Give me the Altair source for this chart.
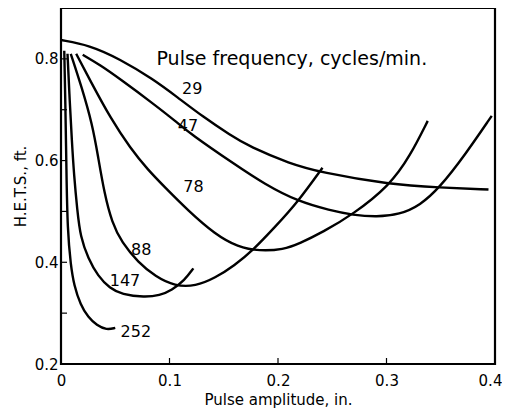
import altair as alt
import pandas as pd

# ---- data ----
x29 = [0.0, 0.026, 0.054, 0.085, 0.107, 0.131, 0.156, 0.174, 0.211, 0.239, 0.303, 0.349, 0.394]
y29 = [0.837, 0.827, 0.800, 0.760, 0.725, 0.686, 0.650, 0.627, 0.594, 0.577, 0.553, 0.547, 0.543]

x47 = [0.020, 0.036, 0.054, 0.085, 0.107, 0.119, 0.159, 0.188, 0.218, 0.248, 0.269, 0.291, 0.312, 0.331, 0.349, 0.372, 0.397]
y47 = [0.808, 0.788, 0.761, 0.712, 0.675, 0.653, 0.594, 0.553, 0.520, 0.502, 0.493, 0.489, 0.494, 0.512, 0.547, 0.610, 0.688]

x78 = [0.014, 0.027, 0.046, 0.064, 0.080, 0.096, 0.117, 0.142, 0.163, 0.183, 0.205, 0.220, 0.241, 0.269, 0.303, 0.322, 0.338]
y78 = [0.810, 0.757, 0.682, 0.624, 0.582, 0.547, 0.502, 0.455, 0.430, 0.422, 0.425, 0.437, 0.459, 0.494, 0.551, 0.610, 0.678]

x88 = [0.009, 0.019, 0.029, 0.034, 0.040, 0.047, 0.056, 0.071, 0.087, 0.105, 0.124, 0.142, 0.160, 0.177, 0.197, 0.218, 0.241]
y88 = [0.810, 0.745, 0.670, 0.610, 0.535, 0.478, 0.439, 0.400, 0.372, 0.353, 0.353, 0.369, 0.394, 0.424, 0.469, 0.518, 0.586]

x147 = [0.006, 0.008, 0.010, 0.012, 0.015, 0.018, 0.025, 0.034, 0.045, 0.056, 0.077, 0.091, 0.102, 0.114, 0.122]
y147 = [0.810, 0.718, 0.639, 0.571, 0.502, 0.449, 0.408, 0.373, 0.349, 0.337, 0.331, 0.335, 0.345, 0.365, 0.388]

x252 = [0.003, 0.004, 0.005, 0.006, 0.009, 0.012, 0.018, 0.025, 0.033, 0.042, 0.050]
y252 = [0.816, 0.718, 0.580, 0.463, 0.394, 0.355, 0.316, 0.292, 0.276, 0.267, 0.271]

label_text = ["29", "47", "78", "88", "147", "252"]
label_x = [0.121, 0.117, 0.122, 0.074, 0.059, 0.069]
label_y = [0.741, 0.667, 0.549, 0.424, 0.363, 0.263]

note_text = ["Pulse frequency, cycles/min."]
note_x = [0.088]
note_y = [0.800]

x_ticks = [0.1, 0.2, 0.3]
y_ticks = [0.3, 0.4, 0.5, 0.6, 0.7, 0.8]

# ---- build tables ----
series = {"29": (x29, y29), "47": (x47, y47), "78": (x78, y78),
          "88": (x88, y88), "147": (x147, y147), "252": (x252, y252)}
rows = []
for name, (xs, ys) in series.items():
    for i, (a, b) in enumerate(zip(xs, ys)):
        rows.append({"freq": name, "amp": a, "hets": b, "order": i})
curves = pd.DataFrame(rows)
labels = pd.DataFrame({"t": label_text, "amp": label_x, "hets": label_y})
note = pd.DataFrame({"t": note_text, "amp": note_x, "hets": note_y})
xt = pd.DataFrame({"v": x_ticks})
yt = pd.DataFrame({"v": y_ticks})

FONT = "DejaVu Sans"
W, H = 434, 356

xscale = alt.Scale(domain=[0, 0.4], nice=False, zero=False)
yscale = alt.Scale(domain=[0.2, 0.9], nice=False, zero=False)

xaxis = alt.Axis(title="Pulse amplitude, in.", values=[0, 0.1, 0.2, 0.3, 0.4],
                 labelExpr="datum.value == 0 ? '0' : format(datum.value, '.1f')",
                 ticks=False, grid=False, domain=False, labelPadding=9,
                 labelFlush=False,
                 labelOffset={"condition": {"test": "datum.value >= 0.39", "value": -5}, "value": 0},
                 labelFont=FONT, labelFontSize=15, labelColor="black",
                 titleFont=FONT, titleFontSize=15, titleFontWeight="normal",
                 titleColor="black", titlePadding=4)
yaxis = alt.Axis(title="H.E.T.S., ft.", values=[0.2, 0.4, 0.6, 0.8], format=".1f",
                 ticks=False, grid=False, domain=False, labelPadding=3,
                 labelFlush=False,
                 labelFont=FONT, labelFontSize=15, labelColor="black",
                 titleFont=FONT, titleFontSize=15, titleFontWeight="normal",
                 titleColor="black", titlePadding=6)

lines = alt.Chart(curves).mark_line(color="black", strokeWidth=2.4,
                                    interpolate="basis").encode(
    x=alt.X("amp:Q", scale=xscale, axis=xaxis),
    y=alt.Y("hets:Q", scale=yscale, axis=yaxis),
    detail="freq:N",
    order="order:Q",
)

text = alt.Chart(labels).mark_text(font=FONT, fontSize=16, color="black").encode(
    x=alt.X("amp:Q", scale=xscale), y=alt.Y("hets:Q", scale=yscale), text="t:N")

note_mark = alt.Chart(note).mark_text(font=FONT, fontSize=19, color="black",
                                      align="left", baseline="middle").encode(
    x=alt.X("amp:Q", scale=xscale), y=alt.Y("hets:Q", scale=yscale), text="t:N")

xtick_mark = alt.Chart(xt).mark_rule(color="black", strokeWidth=1.2).encode(
    x=alt.X("v:Q", scale=xscale), y=alt.value(H), y2=alt.value(H - 6))
ytick_mark = alt.Chart(yt).mark_rule(color="black", strokeWidth=1.2).encode(
    y=alt.Y("v:Q", scale=yscale), x=alt.value(0), x2=alt.value(6))

chart = alt.layer(lines, text, note_mark, xtick_mark, ytick_mark).properties(
    width=W, height=H,
    autosize=alt.AutoSizeParams(type="none"),
    padding={"left": 53, "top": 0, "right": 7, "bottom": 44},
    background="white",
).configure_view(stroke="black", strokeWidth=2.2)

chart.save("out.html", embed_options={"renderer": "svg", "actions": False})
